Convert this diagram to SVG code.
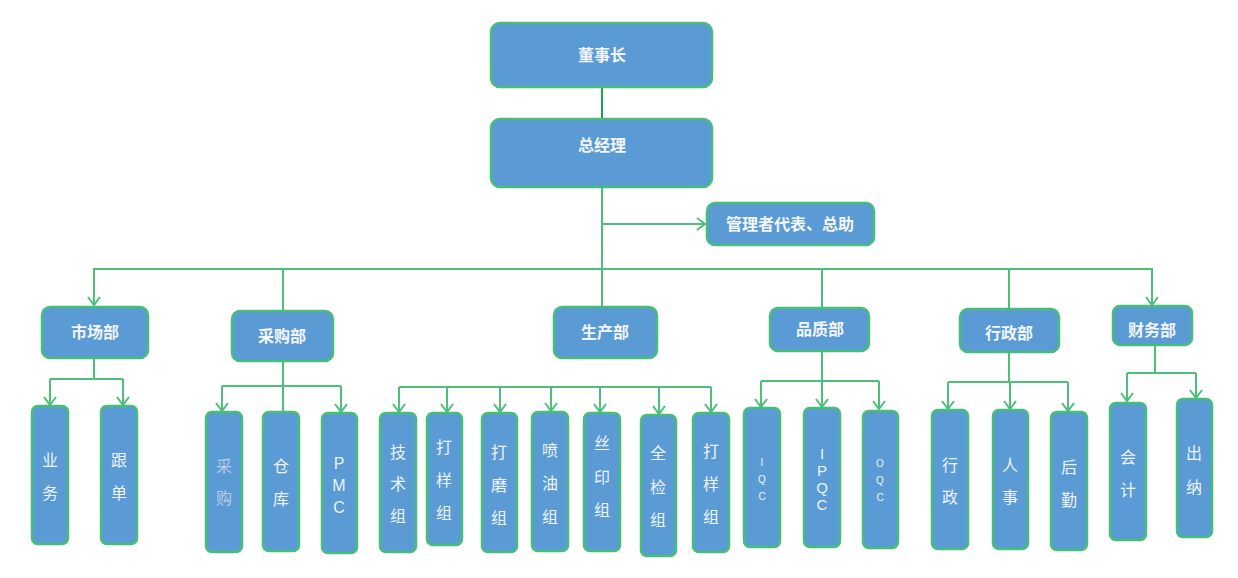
<svg xmlns="http://www.w3.org/2000/svg" width="1238" height="578" viewBox="0 0 1238 578">
<style>
.box{fill:#5b9bd5;stroke:#46bd78;stroke-width:2.5}
.ln{fill:none;stroke:#4cc07a;stroke-width:2}
.dk{fill:none;stroke:#1ba34f;stroke-width:2}
.h{font-family:"Liberation Sans","Noto Sans CJK SC",sans-serif;font-weight:bold;font-size:16px;fill:#f2f5fa;text-anchor:middle}
.v{font-family:"Liberation Sans","Noto Sans CJK SC",sans-serif;font-size:16px;fill:#eef3f9;text-anchor:middle}
.f{fill:#b9cde6}
.s{font-size:10px}
.b{font-size:15px}
</style>
<defs>
<marker id="ar" markerUnits="userSpaceOnUse" markerWidth="12" markerHeight="14" viewBox="0 0 12 14" refX="10" refY="7" orient="auto">
<path d="M2,1 L10,7 L2,13" fill="none" stroke="#4cc07a" stroke-width="2"/>
</marker>
</defs>
<rect width="1238" height="578" fill="#ffffff"/>
<g id="connectors">
<line class="dk" x1="602" y1="87" x2="602" y2="119"/>
<line class="ln" x1="602" y1="187" x2="602" y2="269"/>
<line class="ln" x1="602" y1="224" x2="705" y2="224" marker-end="url(#ar)"/>
<polyline class="ln" points="94,305 94,269 1152,269 1152,305" marker-end="url(#ar)"/>
<line class="ln" x1="94" y1="269" x2="94" y2="305" marker-end="url(#ar)"/>
<line class="ln" x1="283" y1="269" x2="283" y2="311"/>
<line class="ln" x1="602" y1="269" x2="602" y2="307"/>
<line class="ln" x1="822" y1="269" x2="822" y2="308"/>
<line class="ln" x1="1009" y1="269" x2="1009" y2="309"/>
<polyline class="ln" points="94,358 94,379"/>
<polyline class="ln" points="50,379 123,379"/>
<line class="ln" x1="50" y1="379" x2="50" y2="405" marker-end="url(#ar)"/>
<line class="ln" x1="123" y1="379" x2="123" y2="405" marker-end="url(#ar)"/>
<line class="ln" x1="283" y1="361" x2="283" y2="412"/>
<polyline class="ln" points="222,386 341,386"/>
<line class="ln" x1="222" y1="386" x2="222" y2="411" marker-end="url(#ar)"/>
<line class="ln" x1="341" y1="386" x2="341" y2="412" marker-end="url(#ar)"/>
<polyline class="ln" points="399,387 711,387"/>
<line class="ln" x1="399" y1="387" x2="399" y2="412" marker-end="url(#ar)"/>
<line class="ln" x1="447" y1="387" x2="447" y2="412" marker-end="url(#ar)"/>
<line class="ln" x1="500" y1="387" x2="500" y2="412" marker-end="url(#ar)"/>
<line class="ln" x1="551" y1="387" x2="551" y2="411" marker-end="url(#ar)"/>
<line class="ln" x1="600" y1="387" x2="600" y2="412" marker-end="url(#ar)"/>
<line class="ln" x1="659" y1="387" x2="659" y2="414" marker-end="url(#ar)"/>
<line class="ln" x1="711" y1="387" x2="711" y2="412" marker-end="url(#ar)"/>
<line class="ln" x1="822" y1="351" x2="822" y2="381"/>
<polyline class="ln" points="761,381 879,381"/>
<line class="ln" x1="761" y1="381" x2="761" y2="407" marker-end="url(#ar)"/>
<line class="ln" x1="822" y1="381" x2="822" y2="407" marker-end="url(#ar)"/>
<line class="ln" x1="879" y1="381" x2="879" y2="409" marker-end="url(#ar)"/>
<line class="ln" x1="1009" y1="352" x2="1009" y2="382"/>
<polyline class="ln" points="948,382 1068,382"/>
<line class="ln" x1="948" y1="382" x2="948" y2="409" marker-end="url(#ar)"/>
<line class="ln" x1="1010" y1="382" x2="1010" y2="409" marker-end="url(#ar)"/>
<line class="ln" x1="1068" y1="382" x2="1068" y2="411" marker-end="url(#ar)"/>
<line class="ln" x1="1155" y1="345" x2="1155" y2="373"/>
<polyline class="ln" points="1127,373 1196,373"/>
<line class="ln" x1="1127" y1="373" x2="1127" y2="401" marker-end="url(#ar)"/>
<line class="ln" x1="1196" y1="373" x2="1196" y2="398" marker-end="url(#ar)"/>
</g>
<g id="n-dsz"><rect class="box" x="491" y="23" width="221" height="64" rx="9"/><text class="h" x="602" y="61">董事长</text></g>
<g id="n-zjl"><rect class="box" x="491" y="119" width="221" height="68" rx="9"/><text class="h" x="602" y="151">总经理</text></g>
<g id="n-glz"><rect class="box" x="707" y="203" width="167" height="42" rx="8"/><text class="h" x="790" y="230">管理者代表、总助</text></g>
<g id="n-scb"><rect class="box" x="42" y="307" width="106" height="51" rx="8"/><text class="h" x="95" y="338">市场部</text></g>
<g id="n-cgb"><rect class="box" x="232" y="311" width="101" height="50" rx="8"/><text class="h" x="282" y="342">采购部</text></g>
<g id="n-scb2"><rect class="box" x="554" y="307" width="103" height="51" rx="8"/><text class="h" x="605" y="338">生产部</text></g>
<g id="n-pzb"><rect class="box" x="770" y="308" width="99" height="43" rx="8"/><text class="h" x="820" y="335">品质部</text></g>
<g id="n-xzb"><rect class="box" x="960" y="309" width="99" height="43" rx="8"/><text class="h" x="1009" y="339">行政部</text></g>
<g id="n-cwb"><rect class="box" x="1113" y="306" width="79" height="39" rx="7"/><text class="h" x="1152" y="336">财务部</text></g>
<g id="n-yw"><rect class="box" x="32" y="406" width="36" height="138" rx="6"/><text class="v" x="50" y="466">业</text><text class="v" x="50" y="499">务</text></g>
<g id="n-gd"><rect class="box" x="101" y="406" width="36" height="138" rx="6"/><text class="v" x="119" y="466">跟</text><text class="v" x="119" y="499">单</text></g>
<g id="n-cg"><rect class="box" x="206" y="412" width="36" height="140" rx="6"/><text class="v f" x="224" y="472">采</text><text class="v f" x="224" y="504">购</text></g>
<g id="n-ck"><rect class="box" x="263" y="412" width="36" height="139" rx="6"/><text class="v" x="281" y="472">仓</text><text class="v" x="281" y="505">库</text></g>
<g id="n-pmc"><rect class="box" x="322" y="413" width="35" height="140" rx="6"/><text class="v" x="339" y="469">P</text><text class="v" x="339" y="491">M</text><text class="v" x="339" y="513">C</text></g>
<g id="n-jsz"><rect class="box" x="380" y="413" width="36" height="139" rx="6"/><text class="v" x="398" y="458">技</text><text class="v" x="398" y="490">术</text><text class="v" x="398" y="522">组</text></g>
<g id="n-dyz1"><rect class="box" x="427" y="413" width="35" height="132" rx="6"/><text class="v" x="444" y="453">打</text><text class="v" x="444" y="486">样</text><text class="v" x="444" y="519">组</text></g>
<g id="n-dmz"><rect class="box" x="482" y="413" width="35" height="139" rx="6"/><text class="v" x="499" y="458">打</text><text class="v" x="499" y="491">磨</text><text class="v" x="499" y="524">组</text></g>
<g id="n-pyz"><rect class="box" x="532" y="412" width="36" height="139" rx="6"/><text class="v" x="550" y="456">喷</text><text class="v" x="550" y="489">油</text><text class="v" x="550" y="523">组</text></g>
<g id="n-syz"><rect class="box" x="584" y="413" width="36" height="138" rx="6"/><text class="v" x="602" y="449">丝</text><text class="v" x="602" y="483">印</text><text class="v" x="602" y="516">组</text></g>
<g id="n-qjz"><rect class="box" x="641" y="415" width="35" height="141" rx="6"/><text class="v" x="658" y="459">全</text><text class="v" x="658" y="493">检</text><text class="v" x="658" y="526">组</text></g>
<g id="n-dyz2"><rect class="box" x="693" y="413" width="36" height="139" rx="6"/><text class="v" x="711" y="457">打</text><text class="v" x="711" y="490">样</text><text class="v" x="711" y="523">组</text></g>
<g id="n-iqc"><rect class="box" x="744" y="408" width="36" height="139" rx="6"/><text class="v s" x="762" y="466">I</text><text class="v s" x="762" y="483">Q</text><text class="v s" x="762" y="500">C</text></g>
<g id="n-ipqc"><rect class="box" x="804" y="408" width="36" height="139" rx="6"/><text class="v b" x="822" y="459">I</text><text class="v b" x="822" y="476">P</text><text class="v b" x="822" y="493">Q</text><text class="v b" x="822" y="510">C</text></g>
<g id="n-oqc"><rect class="box" x="863" y="411" width="35" height="137" rx="6"/><text class="v s" x="880" y="467">O</text><text class="v s" x="880" y="484">Q</text><text class="v s" x="880" y="501">C</text></g>
<g id="n-xz"><rect class="box" x="932" y="410" width="36" height="139" rx="6"/><text class="v" x="950" y="471">行</text><text class="v" x="950" y="503">政</text></g>
<g id="n-rs"><rect class="box" x="993" y="410" width="35" height="139" rx="6"/><text class="v" x="1010" y="471">人</text><text class="v" x="1010" y="503">事</text></g>
<g id="n-hq"><rect class="box" x="1051" y="412" width="36" height="138" rx="6"/><text class="v" x="1069" y="473">后</text><text class="v" x="1069" y="506">勤</text></g>
<g id="n-kj"><rect class="box" x="1110" y="403" width="36" height="137" rx="6"/><text class="v" x="1128" y="463">会</text><text class="v" x="1128" y="496">计</text></g>
<g id="n-cn"><rect class="box" x="1177" y="399" width="35" height="138" rx="6"/><text class="v" x="1194" y="459">出</text><text class="v" x="1194" y="493">纳</text></g>
</svg>
